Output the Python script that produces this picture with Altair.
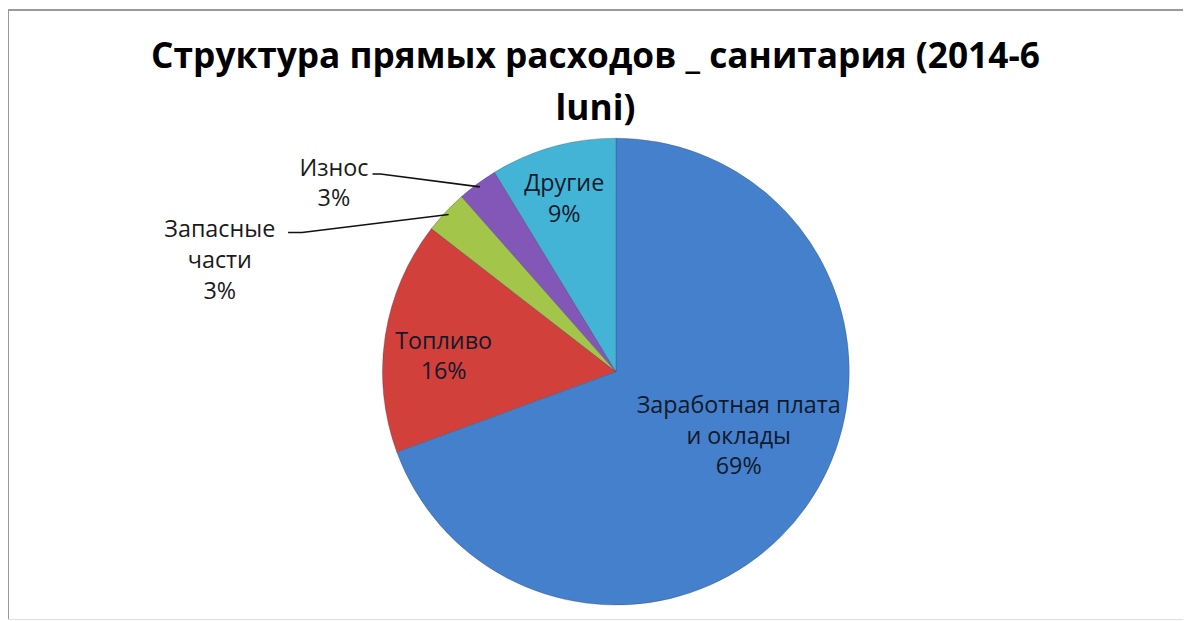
import math
import altair as alt
import pandas as pd

# ---- data ----
categories = ["Заработная плата и оклады", "Топливо", "Запасные части", "Износ", "Другие"]
label_names = ["Заработная плата\nи оклады", "Топливо", "Запасные\nчасти", "Износ", "Другие"]
values = [69.4, 16.1, 3.0, 2.8, 8.7]
colors = ["#4580cc", "#d2403b", "#a3c64a", "#8257b8", "#44b4d6"]
title_lines = ["Структура прямых расходов _ санитария (2014-6", "luni)"]

# ---- layout (pixels, plot coordinates; plot origin = page (8, 8)) ----
CX, CY, R = 612, 364, 235
LH = 31
# label placement: (angle shift from slice mid-angle in degrees, distance from centre)
label_layout = {
    "Заработная плата и оклады": (-7.0, 140),
    "Топливо": (-4.0, 174),
    "Запасные части": (-27.6, 414),
    "Износ": (-20.0, 341),
    "Другие": (-1.0, 181),
}
# leader line start (offset from centre), and short horizontal segment end
leader_layout = {
    "Запасные части": [(-330, -140), (-316, -140)],
    "Износ": [(-245, -199), (-237, -199)],
}

total = sum(values)
rows, lab_rows, lead_rows = [], [], []
cum = 0.0
for i, (c, v) in enumerate(zip(categories, values)):
    mid = (cum + v / 2) / total * 360.0
    cum += v
    rows.append({"category": c, "value": v, "idx": i})
    shift, dist = label_layout[c]
    a = math.radians(mid + shift)
    pct = f"{round(v / total * 100)}%"
    text = label_names[i] + "\n" + pct
    n = text.count("\n") + 1
    lab_rows.append({
        "category": c,
        "text": text,
        "x": CX + dist * math.sin(a),
        "y": CY - dist * math.cos(a) - (n - 1) * LH / 2,
        "inside": dist < R,
    })
    if c in leader_layout:
        pts = leader_layout[c]
        am = math.radians(mid)
        coords = [(CX + dx, CY + dy) for dx, dy in pts] + [
            (CX + (R - 4) * math.sin(am), CY - (R - 4) * math.cos(am))
        ]
        for k, (px, py) in enumerate(coords):
            lead_rows.append({"category": c, "k": k, "x": px, "y": py})

df = pd.DataFrame(rows)
lab = pd.DataFrame(lab_rows)
lead = pd.DataFrame(lead_rows)

FONT = "Open Sans"

pie = alt.Chart(df).mark_arc(outerRadius=R, stroke="#2b3d55", strokeWidth=0.6, strokeOpacity=0.5).encode(
    theta=alt.Theta("value:Q", stack=True),
    color=alt.Color("category:N", scale=alt.Scale(domain=categories, range=colors), legend=None),
    order=alt.Order("idx:Q"),
    x=alt.value(CX),
    y=alt.value(CY),
)

labels = alt.Chart(lab).mark_text(
    font=FONT, fontSize=23.5, lineBreak="\n", lineHeight=LH, align="center", baseline="middle"
).encode(
    x=alt.X("x:Q", scale=None),
    y=alt.Y("y:Q", scale=None),
    text="text:N",
    color=alt.condition("datum.inside", alt.value("#111a2a"), alt.value("#1a1a1a")),
)

leaders = alt.Chart(lead).mark_line(color="#111111", strokeWidth=1.6).encode(
    x=alt.X("x:Q", scale=None),
    y=alt.Y("y:Q", scale=None),
    detail="category:N",
    order="k:Q",
)

frame_left = alt.Chart(df).mark_rule(color="#9a9a9a", strokeWidth=2).encode(
    x=alt.value(0), y=alt.value(0), y2=alt.value(613)
)
frame_top = alt.Chart(df).mark_rule(color="#9a9a9a", strokeWidth=2).encode(
    x=alt.value(0), x2=alt.value(1183), y=alt.value(0)
)

chart = alt.layer(frame_left, frame_top, pie, leaders, labels).properties(
    width=1183,
    height=613,
    autosize=alt.AutoSizeParams(type="none"),
    padding={"left": 0, "top": 0, "right": 0, "bottom": 0},
    title=alt.TitleParams(
        text=title_lines,
        font=FONT,
        fontSize=35.5,
        fontWeight="bold",
        color="#000000",
        anchor="middle",
        baseline="alphabetic",
        lineHeight=52,
        offset=0,
        dy=147,
    ),
).configure_view(stroke="transparent", strokeWidth=0).configure(background="white")

chart.save("out.html", embed_options={"renderer": "svg", "actions": False})
